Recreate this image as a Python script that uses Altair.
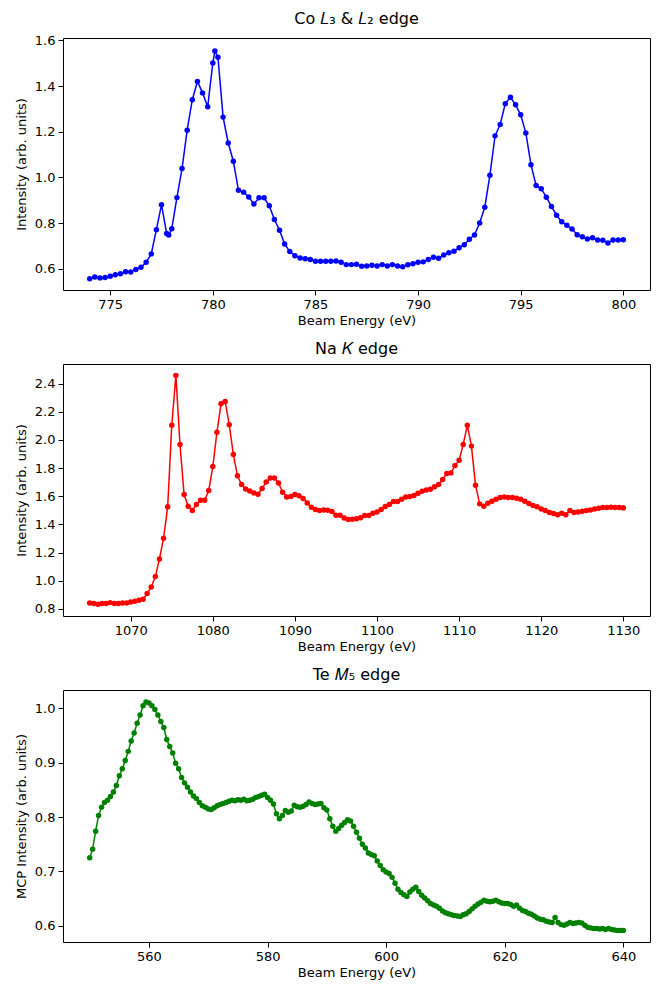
import altair as alt
import pandas as pd

# ---------------- Co L3 & L2 edge ----------------
co_e = [774.0, 774.25, 774.5, 774.75, 775.0, 775.25, 775.5, 775.75, 776.0, 776.25,
        776.5, 776.75, 777.0, 777.25, 777.5, 777.75, 777.85, 778.0, 778.25, 778.5,
        778.75, 779.0, 779.25, 779.5, 779.75, 780.0, 780.1, 780.25, 780.5, 780.75,
        781.0, 781.25, 781.5, 781.75, 782.0, 782.25, 782.5, 782.75, 783.0, 783.25,
        783.5, 783.75, 784.0, 784.25, 784.5, 784.75, 785.0, 785.25, 785.5, 785.75,
        786.0, 786.25, 786.5, 786.75, 787.0, 787.25, 787.5, 787.75, 788.0, 788.25,
        788.5, 788.75, 789.0, 789.25, 789.5, 789.75, 790.0, 790.25, 790.5, 790.75,
        791.0, 791.25, 791.5, 791.75, 792.0, 792.25, 792.5, 792.75, 793.0, 793.25,
        793.5, 793.75, 794.0, 794.25, 794.5, 794.75, 795.0, 795.25, 795.5, 795.75,
        796.0, 796.25, 796.5, 796.75, 797.0, 797.25, 797.5, 797.75, 798.0, 798.25,
        798.5, 798.75, 799.0, 799.25, 799.5, 799.75, 800.0]
co_i = [0.557, 0.565, 0.561, 0.563, 0.568, 0.575, 0.579, 0.588, 0.587, 0.598,
        0.607, 0.629, 0.666, 0.772, 0.881, 0.755, 0.749, 0.776, 0.912, 1.039,
        1.207, 1.340, 1.420, 1.370, 1.309, 1.501, 1.553, 1.526, 1.264, 1.151,
        1.071, 0.944, 0.936, 0.915, 0.884, 0.911, 0.911, 0.876, 0.816, 0.769,
        0.709, 0.676, 0.658, 0.648, 0.645, 0.641, 0.634, 0.634, 0.634, 0.634,
        0.635, 0.629, 0.619, 0.619, 0.621, 0.612, 0.613, 0.616, 0.613, 0.619,
        0.613, 0.619, 0.613, 0.610, 0.618, 0.623, 0.629, 0.631, 0.641, 0.651,
        0.647, 0.661, 0.671, 0.677, 0.693, 0.706, 0.730, 0.749, 0.801, 0.870,
        1.010, 1.182, 1.232, 1.323, 1.351, 1.318, 1.274, 1.195, 1.056, 0.965,
        0.951, 0.914, 0.873, 0.835, 0.806, 0.791, 0.775, 0.750, 0.741, 0.731,
        0.736, 0.727, 0.726, 0.714, 0.727, 0.727, 0.728]

# ---------------- Na K edge ----------------
na_e = [1065.0, 1065.5, 1066.0, 1066.5, 1067.0, 1067.5, 1068.0, 1068.5, 1069.0, 1069.5,
        1070.0, 1070.5, 1071.0, 1071.5, 1072.0, 1072.5, 1073.0, 1073.5, 1074.0, 1074.5,
        1075.0, 1075.5, 1076.0, 1076.5, 1077.0, 1077.5, 1078.0, 1078.5, 1079.0, 1079.5,
        1080.0, 1080.5, 1081.0, 1081.5, 1082.0, 1082.5, 1083.0, 1083.5, 1084.0, 1084.5,
        1085.0, 1085.5, 1086.0, 1086.5, 1087.0, 1087.5, 1088.0, 1088.5, 1089.0, 1089.5,
        1090.0, 1090.5, 1091.0, 1091.5, 1092.0, 1092.5, 1093.0, 1093.5, 1094.0, 1094.5,
        1095.0, 1095.5, 1096.0, 1096.5, 1097.0, 1097.5, 1098.0, 1098.5, 1099.0, 1099.5,
        1100.0, 1100.5, 1101.0, 1101.5, 1102.0, 1102.5, 1103.0, 1103.5, 1104.0, 1104.5,
        1105.0, 1105.5, 1106.0, 1106.5, 1107.0, 1107.5, 1108.0, 1108.5, 1109.0, 1109.5,
        1110.0, 1110.5, 1111.0, 1111.5, 1112.0, 1112.5, 1113.0, 1113.5, 1114.0, 1114.5,
        1115.0, 1115.5, 1116.0, 1116.5, 1117.0, 1117.5, 1118.0, 1118.5, 1119.0, 1119.5,
        1120.0, 1120.5, 1121.0, 1121.5, 1122.0, 1122.5, 1123.0, 1123.5, 1124.0, 1124.5,
        1125.0, 1125.5, 1126.0, 1126.5, 1127.0, 1127.5, 1128.0, 1128.5, 1129.0, 1129.5,
        1130.0]
na_i = [0.843, 0.838, 0.833, 0.838, 0.838, 0.845, 0.838, 0.838, 0.843, 0.843,
        0.850, 0.855, 0.862, 0.869, 0.909, 0.956, 1.030, 1.155, 1.302, 1.525,
        2.105, 2.458, 1.968, 1.612, 1.529, 1.499, 1.541, 1.572, 1.572, 1.641,
        1.811, 2.055, 2.256, 2.273, 2.107, 1.897, 1.745, 1.683, 1.652, 1.638,
        1.624, 1.615, 1.655, 1.702, 1.730, 1.730, 1.695, 1.629, 1.595, 1.598,
        1.612, 1.603, 1.584, 1.553, 1.522, 1.506, 1.499, 1.503, 1.501, 1.492,
        1.466, 1.466, 1.446, 1.435, 1.437, 1.440, 1.448, 1.463, 1.463, 1.480,
        1.489, 1.506, 1.527, 1.541, 1.563, 1.563, 1.579, 1.595, 1.598, 1.605,
        1.622, 1.636, 1.645, 1.650, 1.667, 1.683, 1.719, 1.762, 1.766, 1.818,
        1.856, 1.968, 2.105, 1.956, 1.679, 1.546, 1.529, 1.551, 1.565, 1.579,
        1.591, 1.595, 1.591, 1.591, 1.586, 1.579, 1.565, 1.548, 1.534, 1.525,
        1.510, 1.499, 1.485, 1.478, 1.468, 1.480, 1.468, 1.499, 1.485, 1.489,
        1.494, 1.499, 1.503, 1.510, 1.515, 1.520, 1.520, 1.522, 1.520, 1.520,
        1.518]

# ---------------- Te M5 edge ----------------
te_e = [550.0, 550.5, 551.0, 551.5, 552.0, 552.5, 553.0, 553.5, 554.0, 554.5,
        555.0, 555.5, 556.0, 556.5, 557.0, 557.5, 558.0, 558.5, 559.0, 559.5,
        560.0, 560.5, 561.0, 561.5, 562.0, 562.5, 563.0, 563.5, 564.0, 564.5,
        565.0, 565.5, 566.0, 566.5, 567.0, 567.5, 568.0, 568.5, 569.0, 569.5,
        570.0, 570.5, 571.0, 571.5, 572.0, 572.5, 573.0, 573.5, 574.0, 574.5,
        575.0, 575.5, 576.0, 576.5, 577.0, 577.5, 578.0, 578.5, 579.0, 579.5,
        580.0, 580.5, 581.0, 581.5, 582.0, 582.5, 583.0, 583.5, 584.0, 584.5,
        585.0, 585.5, 586.0, 586.5, 587.0, 587.5, 588.0, 588.5, 589.0, 589.5,
        590.0, 590.5, 591.0, 591.5, 592.0, 592.5, 593.0, 593.5, 594.0, 594.5,
        595.0, 595.5, 596.0, 596.5, 597.0, 597.5, 598.0, 598.5, 599.0, 599.5,
        600.0, 600.5, 601.0, 601.5, 602.0, 602.5, 603.0, 603.5, 604.0, 604.5,
        605.0, 605.5, 606.0, 606.5, 607.0, 607.5, 608.0, 608.5, 609.0, 609.5,
        610.0, 610.5, 611.0, 611.5, 612.0, 612.5, 613.0, 613.5, 614.0, 614.5,
        615.0, 615.5, 616.0, 616.5, 617.0, 617.5, 618.0, 618.5, 619.0, 619.5,
        620.0, 620.5, 621.0, 621.5, 622.0, 622.5, 623.0, 623.5, 624.0, 624.5,
        625.0, 625.5, 626.0, 626.5, 627.0, 627.5, 628.0, 628.5, 629.0, 629.5,
        630.0, 630.5, 631.0, 631.5, 632.0, 632.5, 633.0, 633.5, 634.0, 634.5,
        635.0, 635.5, 636.0, 636.5, 637.0, 637.5, 638.0, 638.5, 639.0, 639.5,
        640.0]
te_i = [0.725, 0.741, 0.774, 0.803, 0.818, 0.827, 0.831, 0.838, 0.846, 0.858,
        0.876, 0.889, 0.904, 0.921, 0.940, 0.955, 0.973, 0.988, 1.005, 1.012,
        1.010, 1.005, 0.998, 0.988, 0.976, 0.965, 0.943, 0.930, 0.918, 0.899,
        0.889, 0.873, 0.863, 0.855, 0.846, 0.839, 0.834, 0.827, 0.821, 0.818,
        0.815, 0.814, 0.817, 0.821, 0.823, 0.825, 0.827, 0.829, 0.831, 0.830,
        0.832, 0.831, 0.833, 0.830, 0.831, 0.833, 0.836, 0.838, 0.840, 0.842,
        0.836, 0.831, 0.824, 0.806, 0.797, 0.803, 0.812, 0.809, 0.811, 0.822,
        0.819, 0.818, 0.820, 0.823, 0.828, 0.825, 0.823, 0.824, 0.825, 0.817,
        0.813, 0.797, 0.783, 0.774, 0.779, 0.785, 0.790, 0.795, 0.793, 0.783,
        0.772, 0.761, 0.750, 0.743, 0.734, 0.731, 0.729, 0.719, 0.711, 0.703,
        0.699, 0.696, 0.689, 0.678, 0.667, 0.661, 0.657, 0.654, 0.662, 0.667,
        0.671, 0.663, 0.656, 0.651, 0.646, 0.641, 0.638, 0.636, 0.632, 0.627,
        0.624, 0.622, 0.620, 0.619, 0.618, 0.617, 0.620, 0.622, 0.626, 0.631,
        0.636, 0.640, 0.643, 0.647, 0.645, 0.644, 0.645, 0.647, 0.644, 0.642,
        0.641, 0.641, 0.639, 0.636, 0.638, 0.632, 0.628, 0.626, 0.623, 0.621,
        0.618, 0.614, 0.612, 0.611, 0.608, 0.607, 0.606, 0.615, 0.606, 0.602,
        0.601, 0.603, 0.606, 0.604, 0.605, 0.606, 0.605, 0.601, 0.597, 0.596,
        0.595, 0.595, 0.594, 0.595, 0.593, 0.595, 0.593, 0.592, 0.591, 0.591,
        0.591]

assert len(co_e) == len(co_i)
assert len(na_e) == len(na_i)
assert len(te_e) == len(te_i)

co_xticks = [775, 780, 785, 790, 795, 800]
co_yticks = [0.6, 0.8, 1.0, 1.2, 1.4, 1.6]
na_xticks = [1070, 1080, 1090, 1100, 1110, 1120, 1130]
na_yticks = [0.8, 1.0, 1.2, 1.4, 1.6, 1.8, 2.0, 2.2, 2.4]
te_xticks = [560, 580, 600, 620, 640]
te_yticks = [0.6, 0.7, 0.8, 0.9, 1.0]

FONT = "DejaVu Sans"
W, H = 587, 252


def panel(e, i, color, title, xdom, ydom, xticks, yticks, ytitle):
    df = pd.DataFrame({"E": e, "I": i})
    base = alt.Chart(df).encode(
        x=alt.X("E:Q",
                scale=alt.Scale(domain=xdom, nice=False, zero=False),
                axis=alt.Axis(values=xticks, format="d", title="Beam Energy (eV)")),
        y=alt.Y("I:Q",
                scale=alt.Scale(domain=ydom, nice=False, zero=False),
                axis=alt.Axis(values=yticks, format=".1f", title=ytitle)),
    )
    line = base.mark_line(color=color, strokeWidth=1.5)
    pts = base.mark_circle(color=color, size=30, opacity=1)
    return alt.layer(line, pts).properties(
        width=W, height=H,
        title=alt.TitleParams(title, fontSize=16, font=FONT, fontWeight="normal",
                              color="black", offset=7),
    )


p1 = panel(co_e, co_i, "#0000ff", "Co 𝐿₃ & 𝐿₂ edge", [772.7, 801.3], [0.508, 1.610],
           co_xticks, co_yticks, "Intensity (arb. units)")
p2 = panel(na_e, na_i, "#ff0000", "Na 𝐾 edge", [1061.75, 1133.25], [0.750, 2.539],
           na_xticks, na_yticks, "Intensity (arb. units)")
p3 = panel(te_e, te_i, "#008000", "Te 𝑀₅ edge", [545.5, 644.5], [0.570, 1.034],
           te_xticks, te_yticks, "MCP Intensity (arb. units)")

chart = alt.vconcat(p1, p2, p3, spacing=12).properties(
    padding={"left": 6, "top": 2, "right": 0, "bottom": 0}, background="white"
).configure_view(
    stroke="black", strokeWidth=1
).configure_axis(
    grid=False,
    domain=False,
    tickColor="black",
    tickSize=5,
    tickWidth=1,
    labelColor="black",
    labelFont=FONT,
    labelFontSize=13,
    labelPadding=3,
    labelFlush=False,
    labelOverlap=False,
    titleColor="black",
    titleFont=FONT,
    titleFontSize=13,
    titleFontWeight="normal",
).configure_axisX(titlePadding=3).configure_axisY(titlePadding=6)

chart.save("out.html", embed_options={"renderer": "svg", "actions": False})
